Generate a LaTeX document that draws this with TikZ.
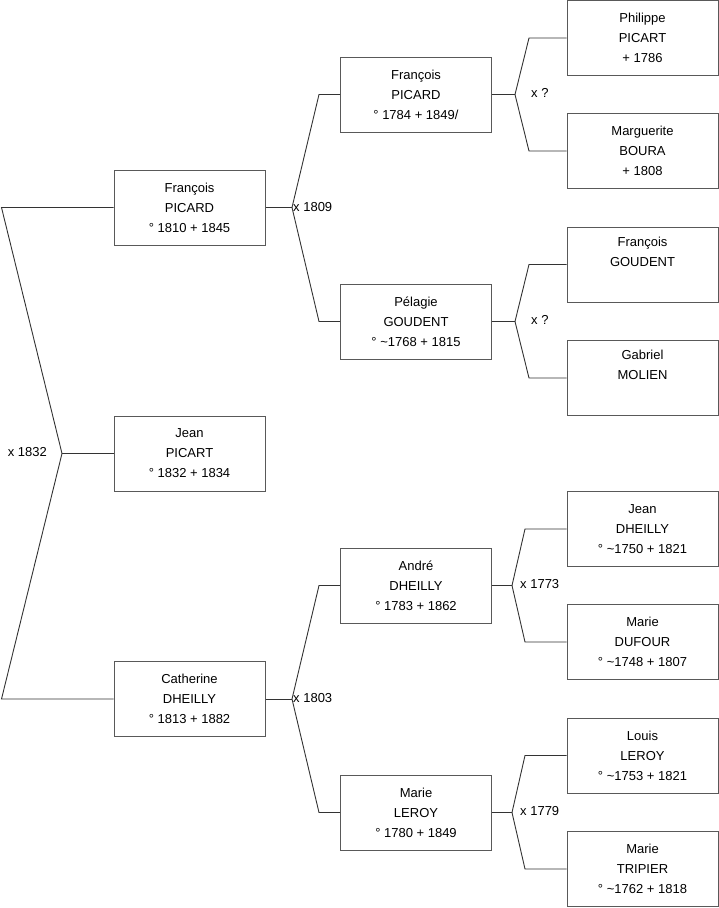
\documentclass[tikz,border=0pt]{standalone}
\usepackage{fontspec}
\setmainfont{Liberation Sans}
\begin{document}
\begin{tikzpicture}[x=1pt,y=-1pt,
  person/.style={draw=black!65, line width=1pt, fill=white, minimum width=151pt, minimum height=75pt, inner sep=0pt, align=center, font=\fontsize{13}{20}\selectfont},
  link/.style={draw=black!80, line width=0.9pt},
  marr/.style={inner sep=0pt, font=\fontsize{13}{16}\selectfont}]
\useasboundingbox (0,0) rectangle (719,908);
% generation 1
\node[person] (jean) at (189.5,453.5) {Jean\\PICART\\° 1832 + 1834};
% generation 2
\node[person] (fp) at (189.5,207.5) {François\\PICARD\\° 1810 + 1845};
\node[person] (cd) at (189.5,699) {Catherine\\DHEILLY\\° 1813 + 1882};
% generation 3
\node[person] (fp2) at (416,94.5) {François\\PICARD\\° 1784 + 1849/};
\node[person] (pg) at (416,321.5) {Pélagie\\GOUDENT\\° \textasciitilde 1768 + 1815};
\node[person] (ad) at (416,585.5) {André\\DHEILLY\\° 1783 + 1862};
\node[person] (ml) at (416,812.5) {Marie\\LEROY\\° 1780 + 1849};
% generation 4
\node[person] (php) at (642.5,38) {Philippe\\PICART\\ + 1786};
\node[person] (mb) at (642.5,151) {Marguerite\\BOURA\\ + 1808};
\node[person] (fg) at (642.5,264.5) {François\\GOUDENT\\\strut};
\node[person] (gm) at (642.5,378) {Gabriel\\MOLIEN\\\strut};
\node[person] (jd) at (642.5,529) {Jean\\DHEILLY\\° \textasciitilde 1750 + 1821};
\node[person] (mdu) at (642.5,642) {Marie\\DUFOUR\\° \textasciitilde 1748 + 1807};
\node[person] (lr) at (642.5,755.5) {Louis\\LEROY\\° \textasciitilde 1753 + 1821};
\node[person] (mt) at (642.5,869) {Marie\\TRIPIER\\° \textasciitilde 1762 + 1818};
% junction coordinates
\coordinate (j1) at (62,453.5);
\coordinate (j1a) at (1.5,207.5);
\coordinate (j1b) at (1.5,699);
\coordinate (j2) at (292,207.5);
\coordinate (j2a) at (319,94.5);
\coordinate (j2b) at (319,321.5);
\coordinate (j3) at (292,699);
\coordinate (j3a) at (319,585.5);
\coordinate (j3b) at (319,812.5);
\coordinate (j4) at (515,94.5);
\coordinate (j4a) at (529,38);
\coordinate (j4b) at (529,151);
\coordinate (j5) at (515,321.5);
\coordinate (j5a) at (529,264.5);
\coordinate (j5b) at (529,378);
\coordinate (j6) at (512,585.5);
\coordinate (j6a) at (525,529);
\coordinate (j6b) at (525,642);
\coordinate (j7) at (512,812.5);
\coordinate (j7a) at (525,755.5);
\coordinate (j7b) at (525,869);
% connectors
\draw[link] (jean.west) -- (j1);
\draw[link] (fp.west) -- (j1a) -- (j1) -- (j1b) -- (cd.west);
\draw[link] (fp.east) -- (j2);
\draw[link] (fp2.west) -- (j2a) -- (j2) -- (j2b) -- (pg.west);
\draw[link] (cd.east) -- (j3);
\draw[link] (ad.west) -- (j3a) -- (j3) -- (j3b) -- (ml.west);
\draw[link] (fp2.east) -- (j4);
\draw[link] (php.west) -- (j4a) -- (j4) -- (j4b) -- (mb.west);
\draw[link] (pg.east) -- (j5);
\draw[link] (fg.west) -- (j5a) -- (j5) -- (j5b) -- (gm.west);
\draw[link] (ad.east) -- (j6);
\draw[link] (jd.west) -- (j6a) -- (j6) -- (j6b) -- (mdu.west);
\draw[link] (ml.east) -- (j7);
\draw[link] (lr.west) -- (j7a) -- (j7) -- (j7b) -- (mt.west);
% marriage labels
\node[marr, anchor=east] (m1) at (47,452) {x 1832};
\node[marr, anchor=west] (m2) at (293,207.5) {x 1809};
\node[marr, anchor=west] (m3) at (293,698) {x 1803};
\node[marr, anchor=west] (m4) at (531,93) {x ?};
\node[marr, anchor=west] (m5) at (531,320) {x ?};
\node[marr, anchor=west] (m6) at (520,584) {x 1773};
\node[marr, anchor=west] (m7) at (520,811) {x 1779};
\end{tikzpicture}
\end{document}
